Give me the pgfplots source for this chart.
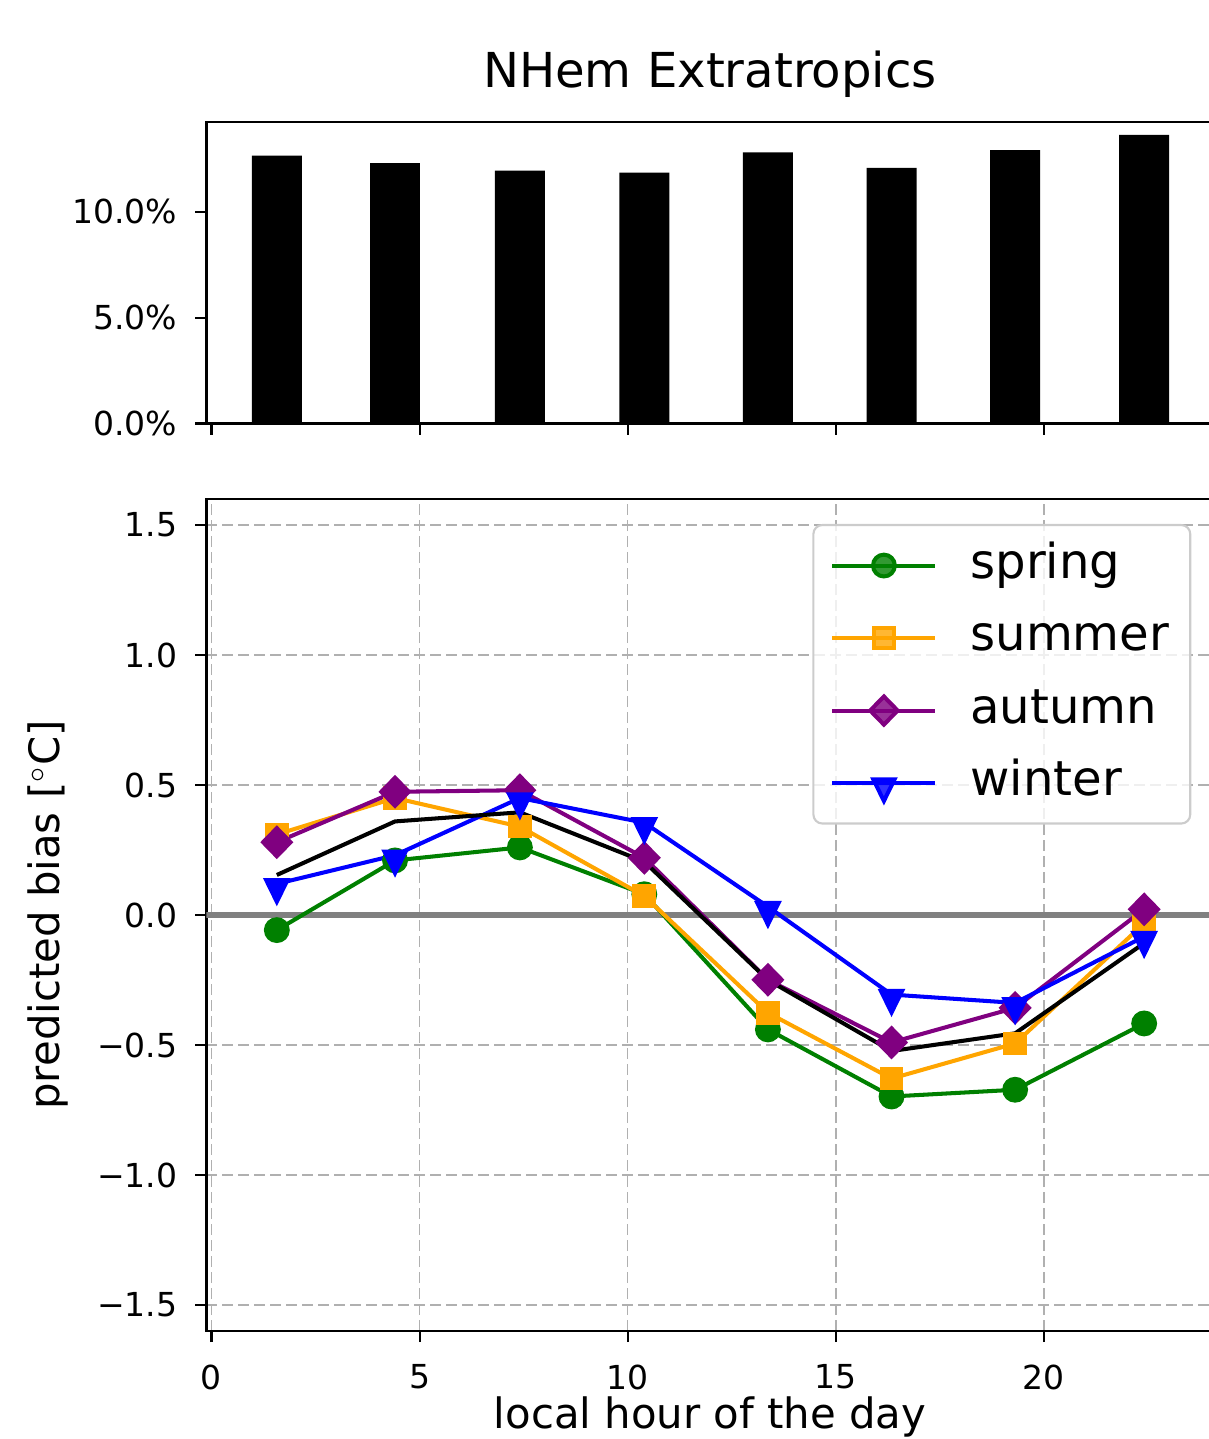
\documentclass[border=0pt]{standalone}
\usepackage{pgfplots}
\pgfplotsset{compat=1.18}
\usepackage{fontspec}
\setmainfont{DejaVu Sans}
\definecolor{mplgreen}{RGB}{0,128,0}
\definecolor{mplorange}{RGB}{255,165,0}
\definecolor{mplpurple}{RGB}{128,0,128}
\definecolor{mplblue}{RGB}{0,0,255}
\definecolor{gridgray}{RGB}{176,176,176}
\definecolor{leggray}{RGB}{204,204,204}
\newcommand\tickfont{\fontsize{9.4}{11}\selectfont}
\newcommand\labfont{\fontsize{11.9}{14}\selectfont}
\newcommand\bigfont{\fontsize{13.7}{16}\selectfont}
\pgfplotsset{
  common/.style={
    scale only axis,
    width=10.08cm,
    xmin=-0.12, xmax=24.1,
    xtick={0,5,10,15,20},
    tick align=outside,
    xtick pos=bottom, ytick pos=left,
    major tick length=1.1mm,
    tick style={black, line width=0.6pt},
    axis line style={line width=0.6pt},
    /pgf/number format/assume math mode=true,
    yticklabel style={font=\tickfont, anchor=east, inner sep=0pt, xshift=-1.75mm},
    xticklabel style={font=\tickfont, anchor=north, inner sep=0pt, yshift=-2.2mm},
  },
  legend image code/.code={\draw[mark repeat=2,mark phase=2,#1] plot coordinates {(0cm,0cm) (0.515cm,0cm) (1.03cm,0cm)};}
}
\begin{document}
\begin{tikzpicture}
% top bar panel
\begin{axis}[common,
  name=top,
  at={(2.065cm,-4.235cm)}, anchor=south west,
  height=3.015cm,
  ymin=0, ymax=14.25,
  ytick={0,5,10},
  yticklabels={0.0\%,5.0\%,10.0\%},
  xticklabels={},
]
\addplot[ybar, fill=black, draw=none, bar width=1.2, bar shift=0pt] coordinates {
(1.57,12.66) (4.41,12.31) (7.41,11.95) (10.40,11.86) (13.37,12.81) (16.34,12.08) (19.31,12.92) (22.41,13.64)};
\end{axis}
% bottom line panel
\begin{axis}[common,
  name=bot,
  at={(2.065cm,-13.31cm)}, anchor=south west,
  height=8.32cm,
  ymin=-1.6, ymax=1.6,
  ytick={-1.5,-1,-0.5,0,0.5,1,1.5},
  yticklabels={−1.5,−1.0,−0.5,0.0,0.5,1.0,1.5},
  xticklabels={0,5,10,15,20},
  grid=major,
  major grid style={gridgray, dash pattern=on 1.1mm off 0.5mm, line width=0.45pt},
  legend cell align=left,
  legend style={at={(rel axis cs:0.977,0.97)}, anchor=north east,
    draw=leggray, line width=0.6pt, rounded corners=0.9mm, fill=white, fill opacity=0.8, text opacity=1,
    font=\bigfont, inner xsep=1.7mm, inner ysep=1.3mm, row sep=1.75mm, column sep=2.9mm,
    nodes={inner sep=0.4mm, text height=3.6mm, text depth=1.1mm}},
]
\addplot[color={rgb,255:red,128;green,128;blue,128}, line width=1.7pt, forget plot] coordinates {(-0.12,0) (24.1,0)};
\addplot[mplgreen, line width=1.15pt, mark=*, mark size=3.1pt, mark options={solid}] coordinates {
(1.57,-0.058) (4.41,0.21) (7.41,0.26) (10.40,0.08) (13.37,-0.44) (16.34,-0.698) (19.31,-0.672) (22.41,-0.417)};
\addlegendentry{spring}
\addplot[mplorange, line width=1.15pt, mark=square*, mark size=2.8pt, mark options={solid}] coordinates {
(1.57,0.31) (4.41,0.45) (7.41,0.34) (10.40,0.073) (13.37,-0.376) (16.34,-0.629) (19.31,-0.494) (22.41,-0.032)};
\addlegendentry{summer}
\addplot[mplpurple, line width=1.15pt, mark=diamond*, mark size=4pt, mark options={solid, xscale=1.3}] coordinates {
(1.57,0.28) (4.41,0.474) (7.41,0.48) (10.40,0.22) (13.37,-0.249) (16.34,-0.49) (19.31,-0.357) (22.41,0.022)};
\addlegendentry{autumn}
\addplot[mplblue, line width=1.15pt, mark=triangle*, mark size=4.1pt, mark options={solid, yshift=-1pt, rotate=180, xscale=0.85}] coordinates {
(1.57,0.12) (4.41,0.23) (7.41,0.45) (10.40,0.355) (13.37,0.032) (16.34,-0.306) (19.31,-0.338) (22.41,-0.083)};
\addlegendentry{winter}
\addplot[black, line width=1.15pt, forget plot] coordinates {
(1.57,0.154) (4.41,0.36) (7.41,0.395) (10.40,0.205) (13.37,-0.25) (16.34,-0.523) (19.31,-0.455) (22.41,-0.108)};
\end{axis}
\node[anchor=base, font=\bigfont] at (7.1cm,-0.87cm) {NHem Extratropics};
\node[anchor=base, rotate=90, font=\labfont] at (0.60cm,-9.15cm) {predicted bias [$^{\circ}$C]};
\node[anchor=base, font=\labfont] at (7.1cm,-14.28cm) {local hour of the day};
\pgfresetboundingbox
\path[use as bounding box] (0,0) rectangle (12.09cm,-14.39cm);
\end{tikzpicture}
\end{document}
